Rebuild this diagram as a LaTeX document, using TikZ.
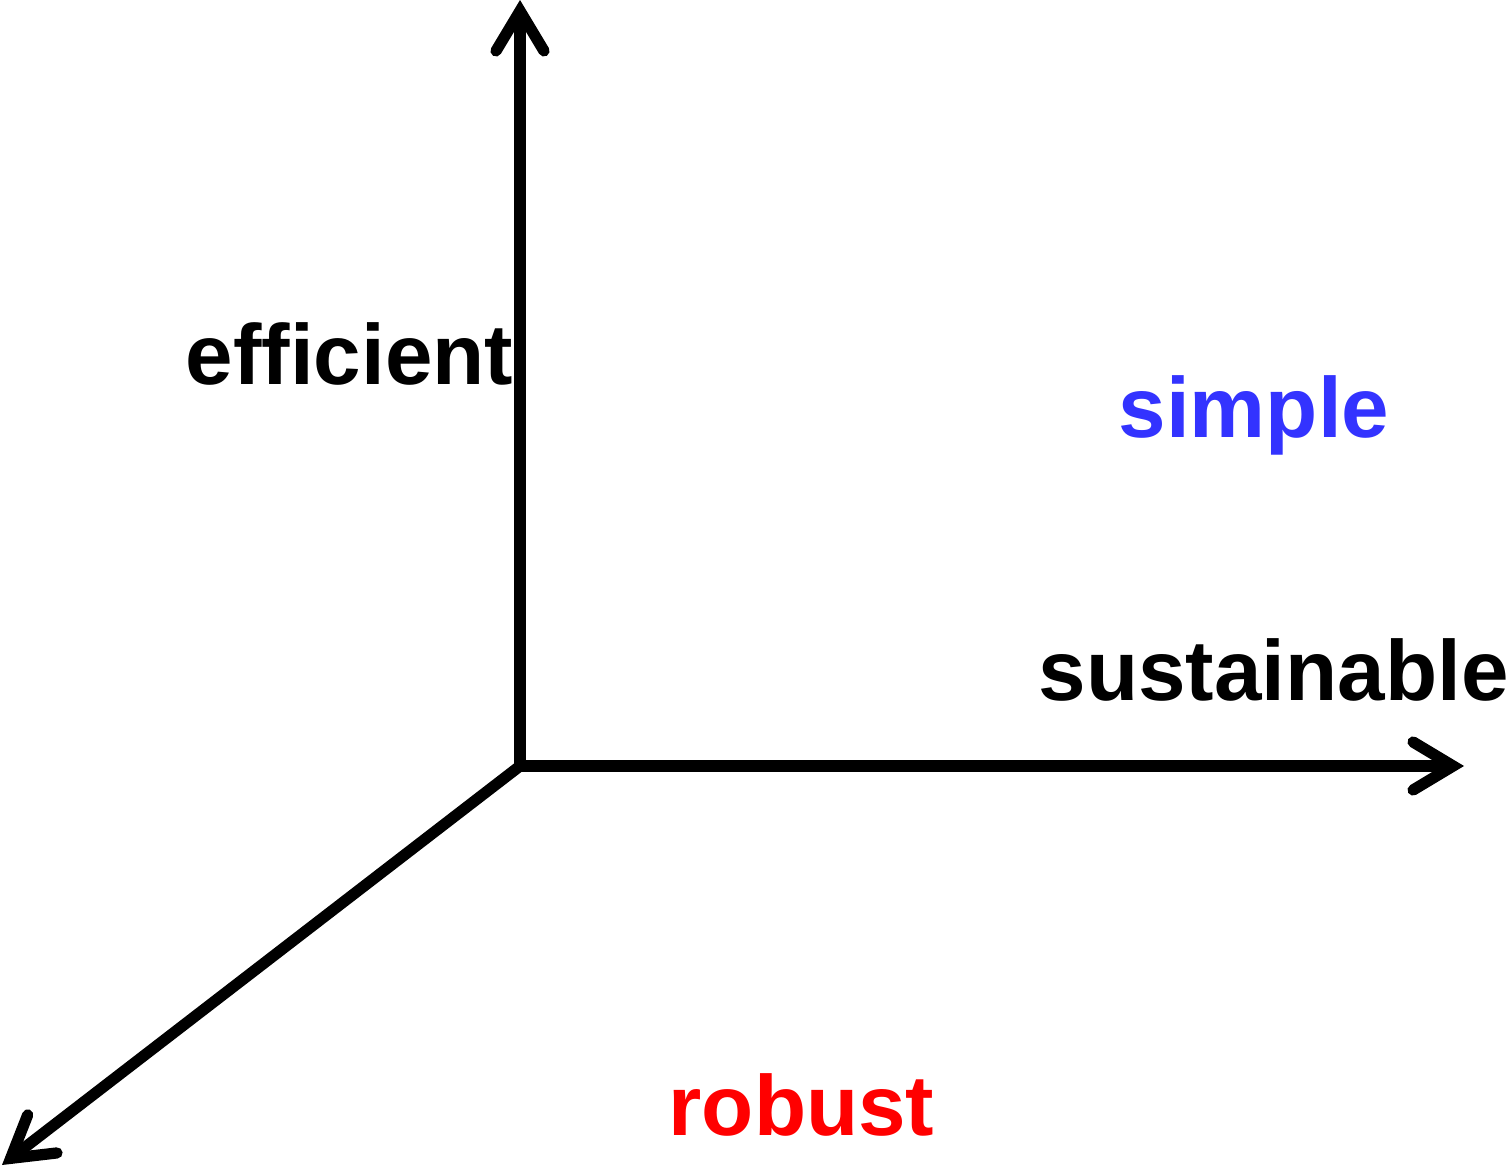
\documentclass[tikz,border=0pt]{standalone}
\usepackage{fontspec}
\setmainfont{Liberation Sans}
\usetikzlibrary{arrows.meta}
\definecolor{simpleblue}{RGB}{51,51,255}

\begin{document}
\begin{tikzpicture}[
        >={Straight Barb[length=0.40cm, width=0.48cm, line cap=round]},
        axis/.style={->, line width=3.2pt, line cap=round},
        label/.style={font=\fontsize{24.3}{28}\selectfont\bfseries, inner sep=0pt}
    ]
        \useasboundingbox (0,0) rectangle (15.09,11.68);

        % Titik asal dan ujung sumbu
        \coordinate (O) at (5.20,4.02);
        \coordinate (Y) at (5.20,11.68);
        \coordinate (X) at (14.64,4.02);
        \coordinate (Z) at (0.02,0.03);

        % Sumbu
        \draw[axis] (O) -- (Y);
        \draw[axis] (O) -- (X);
        \draw[axis] (O) -- (Z);

        % Label
        \node[label, anchor=base east] (eff) at (5.14,7.83) {efficient};
        \node[label, anchor=base west, text=simpleblue] (simp) at (11.18,7.31) {simple};
        \node[label, anchor=base west] (sust) at (10.38,4.68) {sustainable};
        \node[label, anchor=base west, text=red] (rob) at (6.68,0.33) {robust};
    \end{tikzpicture}
\end{document}
